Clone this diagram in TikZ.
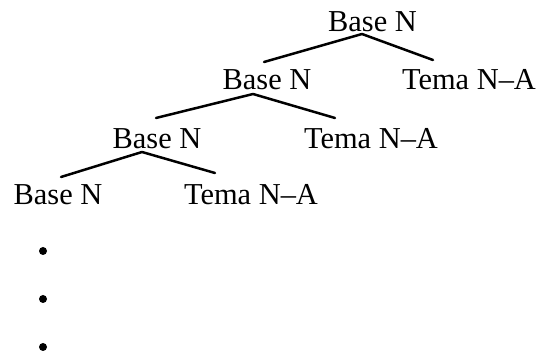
\documentclass[tikz,border=0pt]{standalone}
\usepackage{fontspec}
\setmainfont{Liberation Serif}
\usepackage{tikz}

\begin{document}
\begin{tikzpicture}[line join=bevel,line cap=round,branch/.style={black,line width=2.5bp},label/.style={draw=none,anchor=base,inner sep=0pt,font=\fontsize{30.4bp}{36bp}\selectfont},dot/.style={circle,fill=black,inner sep=0pt,minimum size=8bp}]
%%
\useasboundingbox (0bp,0bp) rectangle (542bp,354bp);
\node (base_0) at (372.5bp,322.3bp) [label] {Base N};
  \node (base_1) at (267bp,264.7bp) [label] {Base N};
  \node (tema_1) at (469bp,264.7bp) [label] {Tema N--A};
  \node (base_2) at (157bp,205.2bp) [label] {Base N};
  \node (tema_2) at (371bp,205.2bp) [label] {Tema N--A};
  \node (base_3) at (58bp,149.5bp) [label] {Base N};
  \node (tema_3) at (251bp,149.5bp) [label] {Tema N--A};
  \coordinate (fork_0) at (362bp,320bp);
  \coordinate (fork_1) at (253bp,260bp);
  \coordinate (fork_2) at (142bp,202bp);
  \coordinate (top_base_1) at (264bp,292bp);
  \coordinate (top_tema_1) at (433bp,294bp);
  \coordinate (top_base_2) at (156bp,236bp);
  \coordinate (top_tema_2) at (335bp,236bp);
  \coordinate (top_base_3) at (61bp,177bp);
  \coordinate (top_tema_3) at (215bp,181bp);
  \draw [branch] (top_base_1) -- (fork_0) -- (top_tema_1);
  \draw [branch] (top_base_2) -- (fork_1) -- (top_tema_2);
  \draw [branch] (top_base_3) -- (fork_2) -- (top_tema_3);
  \node (dot_0) at (43bp,103bp) [dot] {};
  \node (dot_1) at (43bp,55bp) [dot] {};
  \node (dot_2) at (43bp,7bp) [dot] {};
%
\end{tikzpicture}
\end{document}
